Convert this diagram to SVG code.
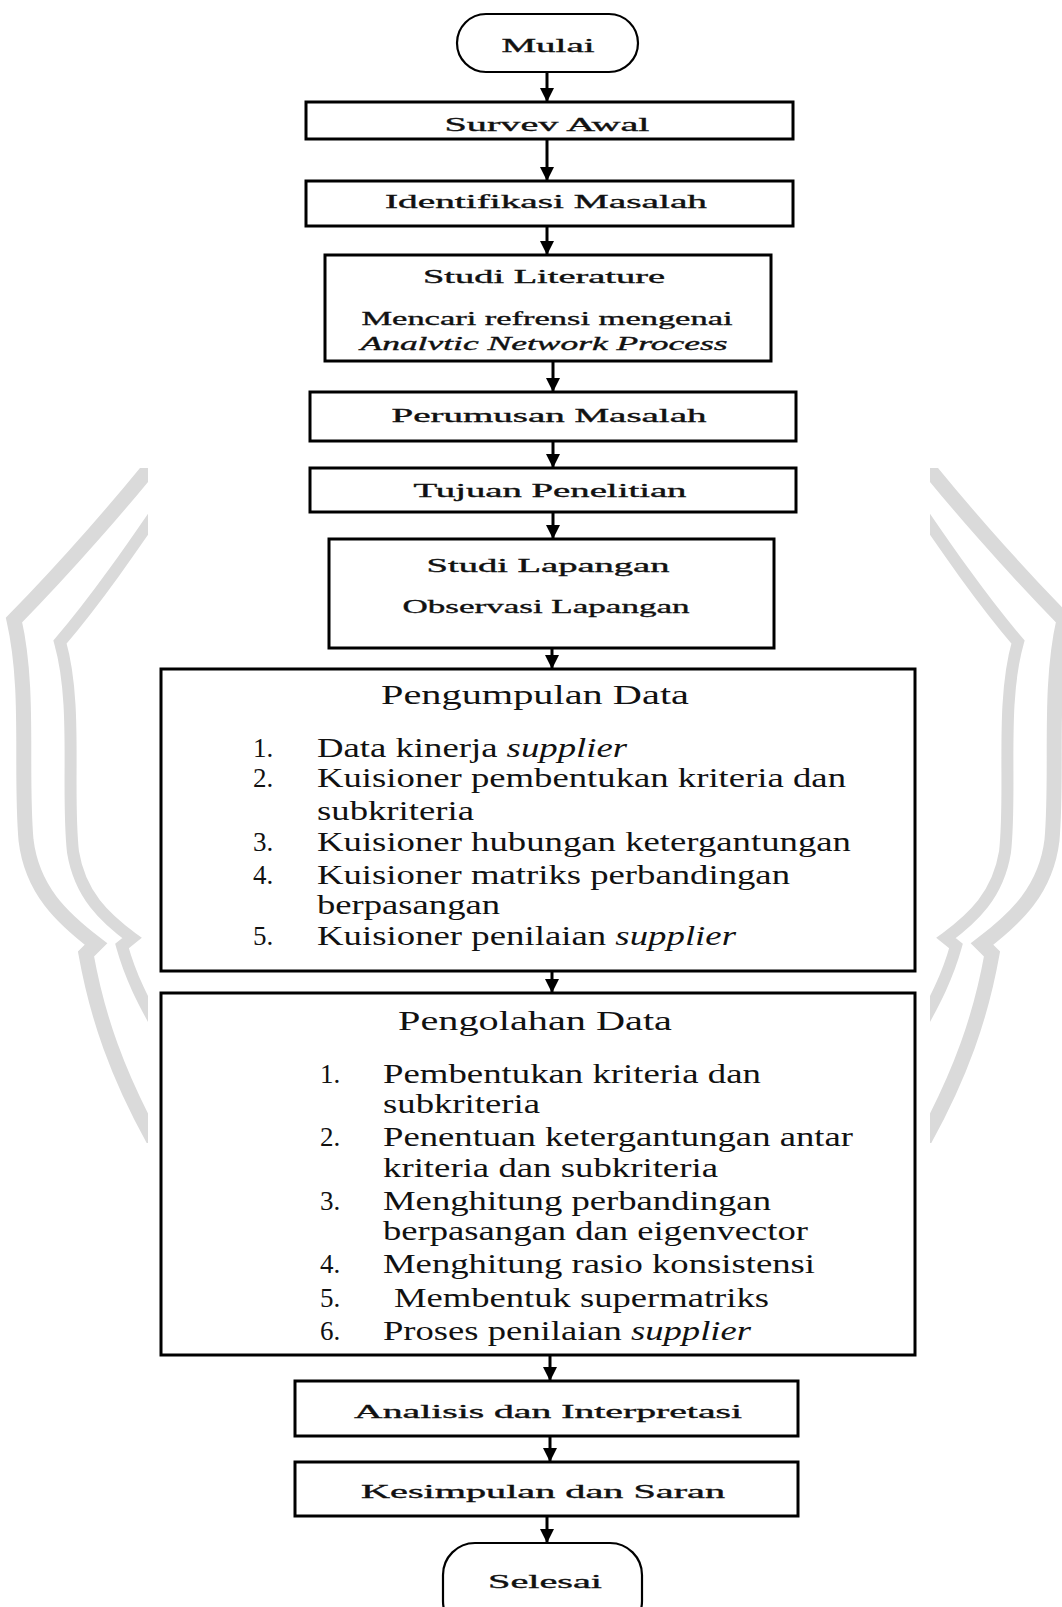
<svg xmlns="http://www.w3.org/2000/svg" width="1062" height="1607" viewBox="0 0 1062 1607">
<style>
.box{fill:none;stroke:#000;stroke-width:3}
.term{fill:none;stroke:#000;stroke-width:2.2}
.t{font-family:"Liberation Serif","Times New Roman",Tinos,serif;font-size:19px;fill:#111;stroke:#111;stroke-width:0.35;text-anchor:middle}
.b{font-family:"Liberation Serif","Times New Roman",Tinos,serif;font-size:27px;fill:#111}
.wm{fill:none;stroke:#dadada;stroke-linecap:butt}
.con{stroke:#000;stroke-width:3;fill:none}
</style>
<defs>
<marker id="ah" markerUnits="userSpaceOnUse" markerWidth="16" markerHeight="14" refX="14" refY="7" orient="auto">
<path d="M0,0 L14,7 L0,14 Z" fill="#000"/>
</marker>
<clipPath id="cl"><rect x="0" y="468" width="148" height="675"/></clipPath>
<clipPath id="cr"><rect x="930" y="468" width="132" height="675"/></clipPath>
<g id="wmpaths">
<path class="wm" stroke-width="15" d="M168 445 C125 500 65 568 14 620 C30 690 20 770 26 840 C32 890 62 918 96 944 L86 954 C96 1010 115 1075 165 1160"/>
<path class="wm" stroke-width="12" d="M168 495 C132 548 96 600 60 642 C78 705 66 790 73 852 C80 895 105 918 132 938 L122 946 C130 975 142 1000 165 1040"/>
</g>
</defs>
<g id="watermark">
<use href="#wmpaths" clip-path="url(#cl)"/>
<g clip-path="url(#cr)"><use href="#wmpaths" transform="matrix(-1 0 0 1 1078 0)"/></g>
</g>
<g id="connectors">
<line class="con" x1="547" y1="72" x2="547" y2="102" marker-end="url(#ah)"/>
<line class="con" x1="547" y1="139" x2="547" y2="181" marker-end="url(#ah)"/>
<line class="con" x1="547" y1="226" x2="547" y2="255" marker-end="url(#ah)"/>
<line class="con" x1="553" y1="361" x2="553" y2="392" marker-end="url(#ah)"/>
<line class="con" x1="553" y1="441" x2="553" y2="468" marker-end="url(#ah)"/>
<line class="con" x1="553" y1="512" x2="553" y2="539" marker-end="url(#ah)"/>
<line class="con" x1="552" y1="648" x2="552" y2="669" marker-end="url(#ah)"/>
<line class="con" x1="552" y1="971" x2="552" y2="993" marker-end="url(#ah)"/>
<line class="con" x1="550" y1="1355" x2="550" y2="1381" marker-end="url(#ah)"/>
<line class="con" x1="550" y1="1436" x2="550" y2="1462" marker-end="url(#ah)"/>
<line class="con" x1="547" y1="1516" x2="547" y2="1543" marker-end="url(#ah)"/>
</g>
<g id="mulai">
<rect class="term" x="457" y="14" width="181" height="58" rx="29"/>
<text class="t" x="548" y="52" textLength="93" lengthAdjust="spacingAndGlyphs">Mulai</text>
</g>
<g id="survey">
<rect class="box" x="306" y="102" width="487" height="37"/>
<text class="t" x="547" y="131" textLength="205" lengthAdjust="spacingAndGlyphs">Survev Awal</text>
</g>
<g id="identifikasi">
<rect class="box" x="306" y="181" width="487" height="45"/>
<text class="t" x="546" y="208" textLength="322" lengthAdjust="spacingAndGlyphs">Identifikasi Masalah</text>
</g>
<g id="studi-literature">
<rect class="box" x="325" y="255" width="446" height="106"/>
<text class="t" x="544" y="283" textLength="242" lengthAdjust="spacingAndGlyphs">Studi Literature</text>
<text class="t" x="547" y="325" textLength="371" lengthAdjust="spacingAndGlyphs">Mencari refrensi mengenai</text>
<text class="t" x="544" y="350" textLength="367" lengthAdjust="spacingAndGlyphs" font-style="italic">Analvtic Network Process</text>
</g>
<g id="perumusan">
<rect class="box" x="310" y="392" width="486" height="49"/>
<text class="t" x="549" y="422" textLength="315" lengthAdjust="spacingAndGlyphs">Perumusan Masalah</text>
</g>
<g id="tujuan">
<rect class="box" x="310" y="468" width="486" height="44"/>
<text class="t" x="550" y="497" textLength="273" lengthAdjust="spacingAndGlyphs">Tujuan Penelitian</text>
</g>
<g id="studi-lapangan">
<rect class="box" x="329" y="539" width="445" height="109"/>
<text class="t" x="548" y="572" textLength="243" lengthAdjust="spacingAndGlyphs">Studi Lapangan</text>
<text class="t" x="546" y="613" textLength="287" lengthAdjust="spacingAndGlyphs">Observasi Lapangan</text>
</g>
<g id="pengumpulan">
<rect class="box" x="161" y="669" width="754" height="302"/>
<text class="b" x="381" y="704" textLength="308" lengthAdjust="spacingAndGlyphs">Pengumpulan Data</text>
<text class="b" x="253" y="757">1.</text>
<text class="b" x="317" y="757" textLength="310" lengthAdjust="spacingAndGlyphs">Data kinerja <tspan font-style="italic">supplier</tspan></text>
<text class="b" x="253" y="787">2.</text>
<text class="b" x="317" y="787" textLength="529" lengthAdjust="spacingAndGlyphs">Kuisioner pembentukan kriteria dan</text>
<text class="b" x="317" y="820" textLength="157" lengthAdjust="spacingAndGlyphs">subkriteria</text>
<text class="b" x="253" y="851">3.</text>
<text class="b" x="317" y="851" textLength="534" lengthAdjust="spacingAndGlyphs">Kuisioner hubungan ketergantungan</text>
<text class="b" x="253" y="884">4.</text>
<text class="b" x="317" y="884" textLength="473" lengthAdjust="spacingAndGlyphs">Kuisioner matriks perbandingan</text>
<text class="b" x="317" y="914" textLength="183" lengthAdjust="spacingAndGlyphs">berpasangan</text>
<text class="b" x="253" y="945">5.</text>
<text class="b" x="317" y="945" textLength="419" lengthAdjust="spacingAndGlyphs">Kuisioner penilaian <tspan font-style="italic">supplier</tspan></text>
</g>
<g id="pengolahan">
<rect class="box" x="161" y="993" width="754" height="362"/>
<text class="b" x="398" y="1030" textLength="274" lengthAdjust="spacingAndGlyphs">Pengolahan Data</text>
<text class="b" x="320" y="1083">1.</text>
<text class="b" x="383" y="1083" textLength="378" lengthAdjust="spacingAndGlyphs">Pembentukan kriteria dan</text>
<text class="b" x="383" y="1113" textLength="157" lengthAdjust="spacingAndGlyphs">subkriteria</text>
<text class="b" x="320" y="1146">2.</text>
<text class="b" x="383" y="1146" textLength="470" lengthAdjust="spacingAndGlyphs">Penentuan ketergantungan antar</text>
<text class="b" x="383" y="1177" textLength="335" lengthAdjust="spacingAndGlyphs">kriteria dan subkriteria</text>
<text class="b" x="320" y="1210">3.</text>
<text class="b" x="383" y="1210" textLength="388" lengthAdjust="spacingAndGlyphs">Menghitung perbandingan</text>
<text class="b" x="383" y="1240" textLength="425" lengthAdjust="spacingAndGlyphs">berpasangan dan eigenvector</text>
<text class="b" x="320" y="1273">4.</text>
<text class="b" x="383" y="1273" textLength="432" lengthAdjust="spacingAndGlyphs">Menghitung rasio konsistensi</text>
<text class="b" x="320" y="1307">5.</text>
<text class="b" x="394" y="1307" textLength="375" lengthAdjust="spacingAndGlyphs">Membentuk supermatriks</text>
<text class="b" x="320" y="1340">6.</text>
<text class="b" x="383" y="1340" textLength="368" lengthAdjust="spacingAndGlyphs">Proses penilaian <tspan font-style="italic">supplier</tspan></text>
</g>
<g id="analisis">
<rect class="box" x="295" y="1381" width="503" height="55"/>
<text class="t" x="548" y="1418" textLength="388" lengthAdjust="spacingAndGlyphs">Analisis dan Interpretasi</text>
</g>
<g id="kesimpulan">
<rect class="box" x="295" y="1462" width="503" height="54"/>
<text class="t" x="543" y="1498" textLength="364" lengthAdjust="spacingAndGlyphs">Kesimpulan dan Saran</text>
</g>
<g id="selesai">
<rect class="term" x="443" y="1543" width="199" height="90" rx="32"/>
<text class="t" x="545" y="1588" textLength="114" lengthAdjust="spacingAndGlyphs">Selesai</text>
</g>
</svg>
